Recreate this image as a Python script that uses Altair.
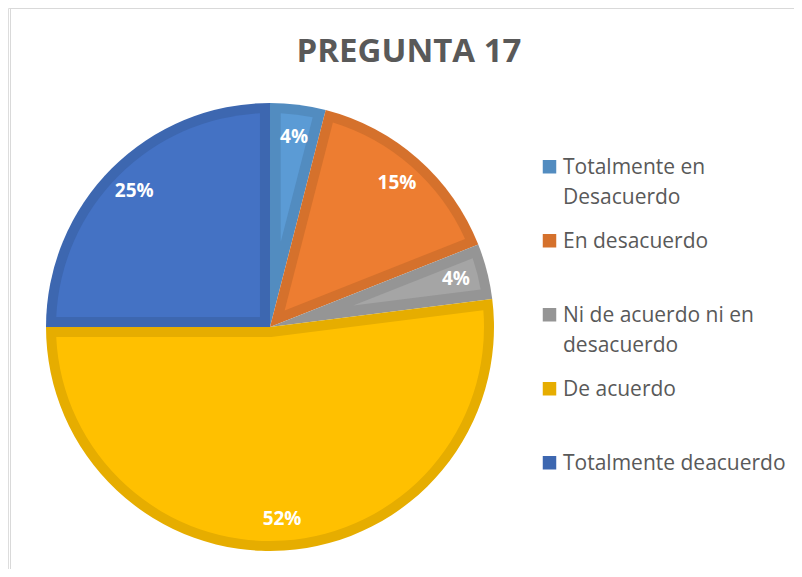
import math
import altair as alt
import pandas as pd

# ---- data ----
categories = [
    "Totalmente en Desacuerdo",
    "En desacuerdo",
    "Ni de acuerdo ni en desacuerdo",
    "De acuerdo",
    "Totalmente deacuerdo",
]
values = [4, 15, 4, 52, 25]
fill_colors = ["#5B9BD5", "#ED7D31", "#A5A5A5", "#FFC000", "#4472C4"]
border_colors = ["#528CC0", "#D5712C", "#959595", "#E6AD00", "#3D67B0"]
legend_wrap = {
    "Totalmente en Desacuerdo": ["Totalmente en", "Desacuerdo"],
    "En desacuerdo": ["En desacuerdo", ""],
    "Ni de acuerdo ni en desacuerdo": ["Ni de acuerdo ni en", "desacuerdo"],
    "De acuerdo": ["De acuerdo", ""],
    "Totalmente deacuerdo": ["Totalmente deacuerdo", ""],
}
title_text = "PREGUNTA 17"

df = pd.DataFrame({"categoria": categories, "valor": values, "orden": list(range(len(values)))})

W, H = 786, 561
CX, CY = 262, 319
R = 224
BORDER = 10
R_IN = R - BORDER
S = BORDER / R_IN
PAD = 2 * math.asin(S)
FONT = "Open Sans"
GRAY = "#595959"

label_expr = " : ".join(
    [f"datum.label == '{k}' ? [{', '.join(repr(x) for x in v)}]" for k, v in legend_wrap.items()]
) + " : datum.label"

# square symbol whose bottom edge sits on the label baseline
SYMBOL_PATH = "M-1,-2H1V0H-1Z"


def build(line_height, row_pad):
    base = alt.Chart(df).encode(
        theta=alt.Theta("valor:Q", stack=True),
        order=alt.Order("orden:Q"),
        x=alt.value(CX),
        y=alt.value(CY),
    )

    outer = base.mark_arc(outerRadius=R).encode(
        color=alt.Color(
            "categoria:N",
            scale=alt.Scale(domain=categories, range=border_colors),
            legend=alt.Legend(
                title=None,
                orient="none",
                legendX=531,
                legendY=155,
                symbolType=SYMBOL_PATH,
                symbolSize=182,
                symbolStrokeWidth=0,
                labelFont=FONT,
                labelFontSize=21,
                labelColor=GRAY,
                labelOffset=3,
                labelLimit=400,
                labelBaseline="alphabetic",
                rowPadding=row_pad,
                labelExpr=label_expr,
            ),
        )
    )

    inner = (
        base.transform_joinaggregate(total="sum(valor)")
        .transform_calculate(k=f"{S}/sin(min(PI*datum.valor/datum.total, PI/2))")
        .transform_calculate(
            r_in=f"{R_IN}*datum.k/sqrt(1-datum.k*datum.k)",
            r_out=f"{R_IN}",
        )
        .mark_arc(padAngle=PAD)
        .encode(
            color=alt.Color("categoria:N", scale=alt.Scale(domain=categories, range=fill_colors), legend=None),
            radius=alt.Radius("r_out:Q", scale=None),
            radius2=alt.Radius2("r_in:Q"),
        )
    )

    labels = (
        base.transform_calculate(etiqueta="datum.valor + '%'")
        .mark_text(radius=192, fontSize=19, fontWeight="bold", font=FONT, color="white")
        .encode(text=alt.Text("etiqueta:N"))
    )

    title = alt.Chart(pd.DataFrame({"t": [title_text]})).mark_text(
        fontSize=33, fontWeight="bold", font=FONT, color=GRAY, baseline="alphabetic", align="center"
    ).encode(text="t:N", x=alt.value(401), y=alt.value(54))

    dummy = pd.DataFrame({"a": [0]})
    frame_top = alt.Chart(dummy).mark_rule(color="#D9D9D9", strokeWidth=1).encode(
        x=alt.value(2), x2=alt.value(W), y=alt.value(0.5)
    )
    frame_left = alt.Chart(dummy).mark_rule(color="#D9D9D9", strokeWidth=1).encode(
        x=alt.value(2.5), y=alt.value(0), y2=alt.value(H)
    )

    ch = (
        alt.layer(frame_top, frame_left, outer, inner, labels, title)
        .resolve_scale(color="independent")
        .properties(width=W, height=H, padding=0, autosize=alt.AutoSizeParams(type="none"), background="white")
        .configure_view(strokeWidth=0)
    )
    if line_height:
        ch = ch.configure(style={"guide-label": {"lineHeight": line_height}})
    return ch


for lh, rp in [(30, 22), (None, 29)]:
    try:
        chart = build(lh, rp)
        chart.save("out.html", embed_options={"renderer": "svg", "actions": False})
        break
    except Exception:
        continue
